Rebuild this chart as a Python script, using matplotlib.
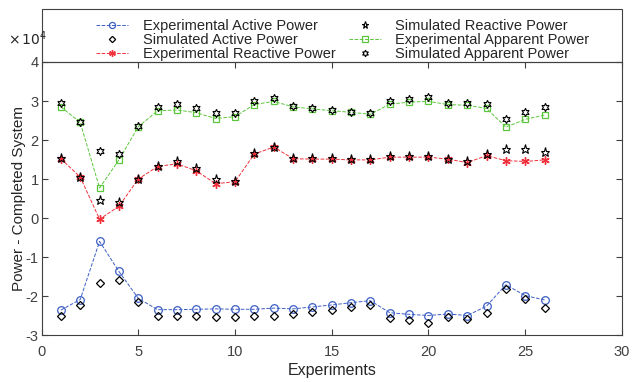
import matplotlib
matplotlib.use('Agg')
import matplotlib.pyplot as plt
from matplotlib.patches import Rectangle

plt.rcParams['font.family'] = ['Liberation Sans', 'DejaVu Sans']
plt.rcParams['axes.unicode_minus'] = False

# values in units of 1e4
experiments = list(range(1, 27))

exp_active = [-2.36, -2.09, -0.60, -1.37, -2.06, -2.35, -2.35, -2.34, -2.33, -2.34,
              -2.34, -2.31, -2.33, -2.28, -2.23, -2.17, -2.12, -2.43, -2.47, -2.50,
              -2.46, -2.50, -2.26, -1.71, -1.99, -2.10]
sim_active = [-2.52, -2.22, -1.66, -1.59, -2.15, -2.52, -2.52, -2.52, -2.53, -2.53,
              -2.52, -2.52, -2.45, -2.40, -2.35, -2.29, -2.22, -2.57, -2.62, -2.69,
              -2.55, -2.58, -2.43, -1.82, -2.07, -2.30]
exp_reactive = [1.52, 1.05, -0.03, 0.30, 1.00, 1.32, 1.39, 1.21, 0.88, 0.93,
                1.64, 1.82, 1.52, 1.51, 1.51, 1.49, 1.49, 1.56, 1.56, 1.56,
                1.51, 1.42, 1.60, 1.47, 1.45, 1.49]
sim_reactive = [1.55, 1.06, 0.47, 0.40, 1.00, 1.34, 1.47, 1.28, 1.01, 0.94,
                1.66, 1.83, 1.54, 1.53, 1.53, 1.52, 1.51, 1.58, 1.59, 1.58,
                1.52, 1.45, 1.63, 1.78, 1.76, 1.69]
exp_apparent = [2.85, 2.45, 0.77, 1.49, 2.34, 2.75, 2.77, 2.70, 2.55, 2.60,
                2.91, 2.99, 2.85, 2.80, 2.75, 2.71, 2.66, 2.92, 2.97, 2.99,
                2.91, 2.89, 2.81, 2.33, 2.53, 2.64]
sim_apparent = [2.94, 2.45, 1.73, 1.64, 2.36, 2.84, 2.92, 2.81, 2.70, 2.69,
                3.00, 3.08, 2.87, 2.81, 2.77, 2.72, 2.69, 2.99, 3.05, 3.11,
                2.94, 2.96, 2.92, 2.54, 2.72, 2.85]

fig = plt.figure(figsize=(6.33, 3.82), dpi=100)
ax = fig.add_axes([0.0656, 0.123, 0.917, 0.7147])

blue = '#3d5fc4'
red = '#f0303a'
green = '#5cc63c'

ax.plot(experiments, exp_active, '--', color=blue, lw=0.7, marker='o', ms=5.5,
        mfc='none', mec=blue, mew=0.9, label='Experimental Active Power')
ax.plot(experiments, sim_active, ls='none', marker='D', ms=4, mfc='none',
        mec='black', mew=0.9, label='Simulated Active Power')
ax.plot(experiments, exp_reactive, '--', color=red, lw=0.7, marker=(6, 2, 0), ms=6,
        mec=red, mew=1.0, label='Experimental Reactive Power')
ax.plot(experiments, sim_reactive, ls='none', marker='*', ms=6.5, mfc='none',
        mec='black', mew=0.8, label='Simulated Reactive Power')
ax.plot(experiments, exp_apparent, '--', color=green, lw=0.7, marker='s', ms=5,
        mfc='none', mec=green, mew=0.9, label='Experimental Apparent Power')
ax.plot(experiments, sim_apparent, ls='none', marker=(6, 1, 0), ms=6, mfc='none',
        mec='black', mew=0.8, label='Simulated Apparent Power')

ax.set_xlim(0, 30)
ax.set_ylim(-3, 4)
ax.set_xticks(range(0, 31, 5))
ax.set_yticks(range(-3, 5))

gray = '#262626'
for s in ax.spines.values():
    s.set_color('#404040')
    s.set_linewidth(0.8)
ax.tick_params(direction='in', top=True, right=True, length=4, width=0.8,
               color='#404040', labelcolor='#404040', labelsize=10.5)
ax.tick_params(axis='x', pad=7)
ax.tick_params(axis='y', pad=2)
ax.set_xlabel('Experiments', fontsize=11.5, color=gray, labelpad=3)
ax.set_ylabel('Power - Completed System', fontsize=11, color=gray, labelpad=0)

# legend frame above the axes
frame_h = 0.194
ax.add_patch(Rectangle((0, 1), 1, frame_h, transform=ax.transAxes, fill=False,
                       ec='#404040', lw=0.8, clip_on=False))
leg = ax.legend(loc='center', bbox_to_anchor=(0.519, 1.082), ncol=2,
                frameon=False, fontsize=10.5, handlelength=2.2, handletextpad=1.0,
                columnspacing=0.9, labelspacing=0.0, borderaxespad=0,
                markerscale=0.8)
for t in leg.get_texts():
    t.set_color(gray)

fig.text(0.012, 0.9, r'$\times\,10^4$', fontsize=10, color=gray, va='center')

fig.savefig('out.png', dpi=100)
